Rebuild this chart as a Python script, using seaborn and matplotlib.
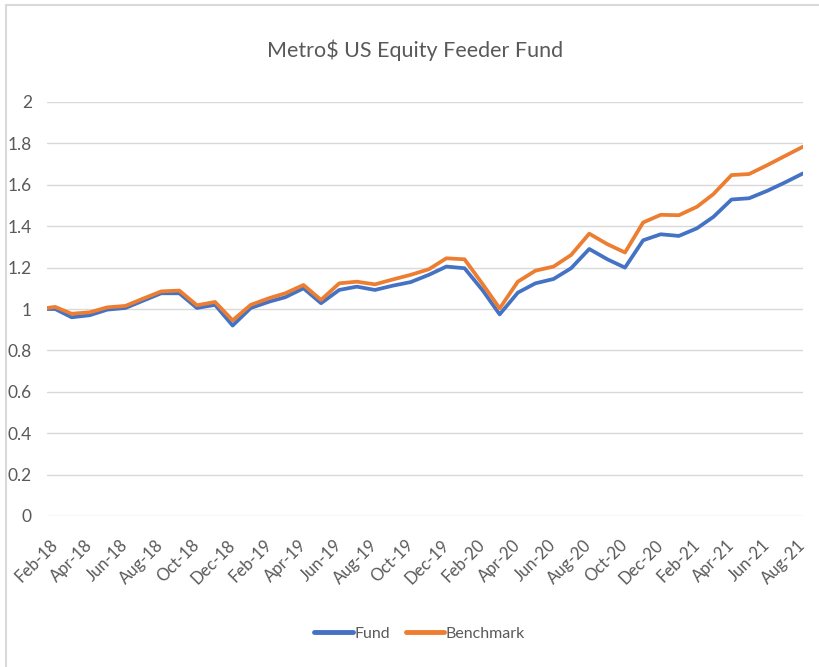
import matplotlib
matplotlib.use("Agg")
import matplotlib.pyplot as plt
from matplotlib import font_manager
from matplotlib.lines import Line2D
import seaborn as sns
import pandas as pd

# ---------------------------------------------------------------------------
# Veri
# ---------------------------------------------------------------------------
TITLE = "Metro$ US Equity Feeder Fund"
START_DATE = "2018-01-18"          # başlangıç noktası (Feb-18 öncesi)
MONTHS = pd.date_range("2018-02-01", "2021-08-01", freq="MS")

FUND = [1.0,
        1.0, 0.96, 0.97, 0.997, 1.005, 1.04, 1.076, 1.076, 1.005, 1.02, 0.92,
        1.005, 1.035, 1.057, 1.10, 1.028, 1.092, 1.108, 1.092, 1.113, 1.13,
        1.165, 1.205, 1.197, 1.09, 0.974, 1.079, 1.124, 1.145, 1.197, 1.29,
        1.24, 1.20, 1.332, 1.361, 1.353, 1.39, 1.445, 1.529, 1.535, 1.571,
        1.611, 1.655]
BENCHMARK = [1.005,
             1.01, 0.977, 0.984, 1.008, 1.015, 1.05, 1.085, 1.089, 1.018, 1.034,
             0.945, 1.02, 1.052, 1.076, 1.116, 1.044, 1.124, 1.132, 1.119, 1.143,
             1.165, 1.192, 1.245, 1.24, 1.12, 1.003, 1.132, 1.185, 1.205, 1.261,
             1.364, 1.313, 1.273, 1.418, 1.455, 1.453, 1.494, 1.555, 1.647, 1.652,
             1.695, 1.739, 1.784]
SERIES = ["Fund", "Benchmark"]
COLORS = {"Fund": "#4472C4", "Benchmark": "#ED7D31"}
Y_TICKS = [0, 0.2, 0.4, 0.6, 0.8, 1, 1.2, 1.4, 1.6, 1.8, 2]

dates = [pd.Timestamp(START_DATE)] + list(MONTHS)
df = pd.DataFrame({"Date": dates, "Fund": FUND, "Benchmark": BENCHMARK})
uzun = df.melt(id_vars="Date", var_name="Seri", value_name="Deger")

# ---------------------------------------------------------------------------
# Stil
# ---------------------------------------------------------------------------
sns.set_theme(style="white")
installed = {f.name for f in font_manager.fontManager.ttflist}
aile = [f for f in ["Lato", "Open Sans", "DejaVu Sans"] if f in installed]
plt.rcParams["font.family"] = aile
GRI = "#595959"

fig = plt.figure(figsize=(8.2, 6.67), dpi=100)
ax = fig.add_axes([47 / 820, 1 - 516 / 667, (803 - 47) / 820, (516 - 102) / 667])

sns.lineplot(data=uzun, x="Date", y="Deger", hue="Seri", hue_order=SERIES,
             palette=COLORS, linewidth=2.7, ax=ax, legend=False)

ax.set_xlim(dates[0], dates[-1])
ax.set_ylim(0, 2)
ax.set_yticks(Y_TICKS)
ax.set_yticklabels([f"{v:g}" for v in Y_TICKS], fontsize=12.5, color=GRI)
ax.yaxis.grid(True, color="#D9D9D9", linewidth=1)
ax.set_axisbelow(True)
for s in ax.spines.values():
    s.set_visible(False)

tick_dates = MONTHS[::2]
ax.set_xticks(tick_dates)
ax.set_xticklabels([d.strftime("%b-%y") for d in tick_dates], rotation=45,
                   ha="right", va="center", rotation_mode="anchor",
                   fontsize=12, color=GRI)
ax.tick_params(axis="x", length=0, pad=19)
ax.tick_params(axis="y", length=0, pad=11)
ax.set_xlabel("")
ax.set_ylabel("")

fig.text(0.506, 1 - 50 / 667, TITLE, ha="center", va="center",
         fontsize=15.5, color=GRI)

handles = [Line2D([], [], color=COLORS[s], linewidth=3.5) for s in SERIES]
fig.legend(handles, SERIES, loc="center", bbox_to_anchor=(0.512, 1 - 634 / 667),
           ncol=2, frameon=False, fontsize=11.5, handlelength=2.4,
           handletextpad=0.1, columnspacing=1.0, labelcolor=GRI)

# Excel grafik çerçevesi (sol ve üst kenar)
fig.add_artist(Line2D([6 / 820, 6 / 820], [0, 1 - 5 / 667], color="#D9D9D9",
                      linewidth=1.5, transform=fig.transFigure))
fig.add_artist(Line2D([6 / 820, 1], [1 - 5 / 667, 1 - 5 / 667], color="#D9D9D9",
                      linewidth=1.5, transform=fig.transFigure))

fig.savefig("out.png", dpi=100)
plt.close(fig)
